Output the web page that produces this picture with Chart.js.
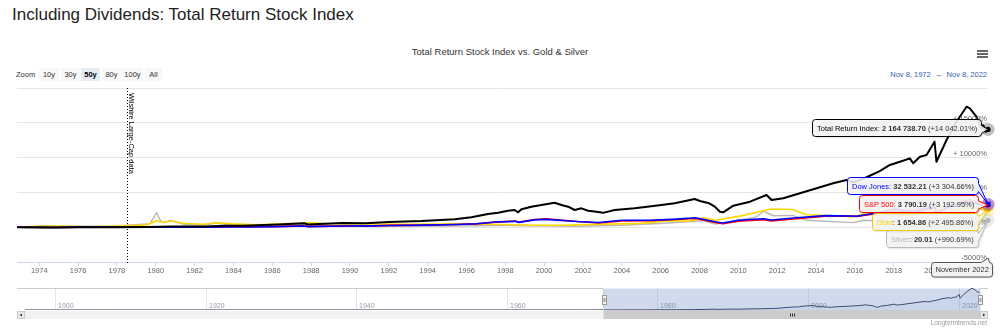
<!DOCTYPE html>
<html>
<head>
<meta charset="utf-8">
<title>Including Dividends: Total Return Stock Index</title>
<script src="https://cdn.jsdelivr.net/npm/chart.js@4.4.1/dist/chart.umd.min.js"></script>
<style>
html, body { margin: 0; padding: 0; background: #fff; }
body { position: relative; width: 1000px; height: 331px; overflow: hidden; font-family: "Liberation Sans", Arial, Helvetica, sans-serif; }
canvas { position: absolute; left: 0; }
#main { top: 0; }
#nav { top: 280px; }
.abs { position: absolute; white-space: nowrap; }
#page-title { left: 12px; top: 5px; font-size: 17px; color: #222; }
#chart-title { left: 0; top: 46px; width: 1000px; text-align: center; font-size: 9.5px; color: #333; }
.rs { top: 67.5px; height: 13.5px; line-height: 13.5px; font-size: 7.5px; color: #333; text-align: center; }
.rs.btn { background: #f7f7f7; border-radius: 1px; }
.rs.on { background: #e6ebf5; font-weight: bold; color: #000; }
#range { right: 13px; top: 68px; font-size: 7.5px; line-height: 13px; color: #335cad; }
.bar { left: 977px; width: 10.5px; height: 1.5px; background: #666; }
#credits { right: 13px; top: 319px; font-size: 6.5px; color: #999; }
</style>
</head>
<body>
<div id="page-title" class="abs">Including Dividends: Total Return Stock Index</div>
<div id="chart-title" class="abs">Total Return Stock Index vs. Gold &amp; Silver</div>
<span class="abs rs" style="left:16px;width:22px;text-align:left">Zoom</span>
<span class="abs rs btn" style="left:39px;width:20px">10y</span>
<span class="abs rs btn" style="left:61px;width:19px">30y</span>
<span class="abs rs btn on" style="left:81px;width:19px">50y</span>
<span class="abs rs btn" style="left:102px;width:19px">80y</span>
<span class="abs rs btn" style="left:122px;width:21px">100y</span>
<span class="abs rs btn" style="left:145px;width:17px">All</span>
<div id="range" class="abs">Nov 8, 1972 &nbsp;→&nbsp; Nov 8, 2022</div>
<div class="abs bar" style="top:50px"></div>
<div class="abs bar" style="top:53px"></div>
<div class="abs bar" style="top:56px"></div>
<canvas id="main" width="1000" height="285"></canvas>
<canvas id="nav" width="1000" height="45"></canvas>
<div id="credits" class="abs">Longtermtrends.net</div>

<script>
var chartFont = '"Liberation Sans", Arial, sans-serif';

// shown range in decimal years: Nov 8, 1972 -> Nov 8, 2022
var rangeStart = 1972.854;
var rangeEnd = 2022.854;
var xTickYears = [1974, 1976, 1978, 1980, 1982, 1984, 1986, 1988, 1990, 1992, 1994, 1996,
    1998, 2000, 2002, 2004, 2006, 2008, 2010, 2012, 2014, 2016, 2018, 2020];
var yTickValues = [-5000, 0, 5000, 10000, 15000, 20000];
var yTickLabels = ['-5000%', '0%', '+ 5000%', '+ 10000%', '+ 15000%', ''];
var wilshireYear = 1978.5;
var wilshireLabel = 'Wilshire Large-Cap data';

// Total Return Index, % change since Nov 1972
var triYears = [1972.854, 1974.75, 1976.0, 1977.9, 1979.5, 1980.9, 1982.6, 1983.5, 1984.5, 1986.3,
    1987.65, 1987.85, 1989.6, 1990.8, 1992.0, 1993.68, 1995.4, 1996.25, 1997.11, 1997.63,
    1998.14, 1998.48, 1998.66, 1998.83, 1999.34, 1999.86, 2000.54, 2000.89, 2001.23, 2001.57,
    2001.92, 2002.26, 2002.6, 2003.03, 2003.63, 2004.66, 2006.04, 2006.72, 2007.75, 2008.02,
    2008.5, 2008.79, 2009.05, 2009.22, 2009.74, 2010.6, 2011.45, 2011.71, 2012.31, 2013.17,
    2014.03, 2014.88, 2015.57, 2015.91, 2016.26, 2016.6, 2017.28, 2017.8, 2018.32, 2018.83,
    2019.0, 2019.35, 2019.69, 2020.1, 2020.2, 2020.72, 2021.23, 2021.75, 2021.92, 2022.26,
    2022.52, 2022.61, 2022.74, 2022.854];
var triPct = [0, -35, 5, 5, 40, 100, 90, 200, 200, 380,
    560, 400, 620, 560, 760, 890, 1130, 1420, 1900, 2090,
    2370, 2470, 2140, 2570, 2950, 3190, 3520, 3190, 2950, 2470,
    2710, 2370, 2250, 2060, 2470, 2710, 3190, 3430, 4050, 3770,
    3430, 2950, 2230, 2140, 3090, 3670, 4630, 3910, 4150, 4870,
    5590, 6310, 6780, 6450, 6780, 7180, 8070, 8940, 9410, 9890,
    9180, 10130, 10370, 12280, 9410, 12530, 15160, 17310, 17080, 15880,
    14210, 14680, 13720, 14042.01];

// Dow Jones and S&P 500 share the same dates
var indexYears = [1972.854, 1974.9, 1976.0, 1978.1, 1980.0, 1982.6, 1983.5, 1985.0, 1986.0, 1987.6,
    1987.85, 1989.0, 1990.5, 1990.8, 1992.0, 1994.0, 1995.5, 1996.5, 1997.5, 1998.5,
    1998.7, 1999.5, 2000.1, 2001.7, 2002.8, 2004.0, 2005.5, 2006.8, 2007.8, 2008.8,
    2009.2, 2010.0, 2011.3, 2011.7, 2013.0, 2014.5, 2015.7, 2016.1, 2017.0, 2018.05,
    2018.95, 2019.9, 2020.1, 2020.22, 2020.9, 2021.9, 2022.45, 2022.75, 2022.854];
var dowPct = [0, -40, 5, -16, -11, -16, 31, 31, 67, 182,
    88, 140, 203, 156, 235, 297, 381, 496, 737, 841,
    695, 1051, 1124, 820, 684, 998, 998, 1155, 1364, 789,
    601, 988, 1208, 1040, 1364, 1668, 1605, 1574, 1992, 2620,
    2337, 2829, 2933, 2097, 2996, 3666, 3195, 2986, 3304.66];
var spxPct = [0, -45, -13, -17, -4, -9, 43, 56, 82, 187,
    108, 161, 213, 169, 256, 300, 387, 473, 725, 899,
    734, 1116, 1203, 812, 595, 882, 943, 1116, 1247, 682,
    508, 873, 1073, 882, 1203, 1594, 1594, 1551, 1898, 2333,
    2072, 2637, 2837, 1985, 3028, 3983, 3288, 3028, 3192.95];

var goldYears = [1972.854, 1973.5, 1974.9, 1976.6, 1978.0, 1979.5, 1980.05, 1980.4, 1980.75, 1981.5,
    1982.5, 1983.1, 1984.0, 1985.2, 1987.9, 1989.0, 1993.0, 1996.0, 1999.6, 2001.3,
    2003.0, 2005.0, 2006.4, 2007.5, 2008.2, 2008.8, 2010.0, 2011.7, 2012.8, 2013.5,
    2015.9, 2016.5, 2018.7, 2019.9, 2020.6, 2021.2, 2022.2, 2022.75, 2022.854];
var goldPct = [0, 81, 171, 58, 164, 322, 925, 669, 895, 533,
    413, 639, 473, 352, 624, 503, 430, 503, 285, 292,
    428, 549, 941, 896, 1363, 1001, 1559, 2615, 2540, 1785,
    1514, 1936, 1710, 2162, 2917, 2464, 2841, 2389, 2495.86];

var silverYears = [1972.854, 1973.5, 1974.2, 1974.9, 1976.0, 1977.0, 1978.0, 1979.7, 1980.05, 1980.25,
    1980.45, 1980.75, 1981.5, 1982.5, 1983.1, 1984.0, 1986.0, 1987.4, 1988.0, 1991.0,
    1993.0, 1998.1, 2001.8, 2004.3, 2006.4, 2008.2, 2008.8, 2010.9, 2011.3, 2011.8,
    2012.8, 2013.5, 2015.9, 2016.5, 2018.8, 2019.6, 2020.2, 2020.6, 2021.1, 2022.2,
    2022.7, 2022.854];
var silverPct = [0, 42, 200, 140, 134, 151, 194, 500, 2080, 900,
    650, 990, 390, 281, 608, 336, 200, 390, 254, 118,
    118, 254, 129, 309, 608, 935, 445, 1426, 2300, 1644,
    1698, 990, 663, 990, 663, 881, 690, 1317, 1371, 1262,
    908, 990.69];

// navigator: Total Return Index before the shown range (tiny next to today's level)
var navStart = 1896.0;
var navEarlyYears = [1896.0, 1906.0, 1921.5, 1929.7, 1932.5, 1937.0, 1942.3, 1950.0, 1959.0, 1966.0, 1968.9, 1970.4];
var navEarlyPct = [-99.9, -99.7, -99.6, -98.5, -99.6, -99.0, -99.1, -98.4, -94, -90, -84, -89];
var navGridYears = [1900, 1920, 1940, 1960, 1980, 2000, 2020];

var seriesNames = ['Total Return Index', 'Dow Jones', 'S&P 500', 'Gold', 'Silver'];
var lastPrices = [2164738.70, 32532.21, 3790.19, 1654.86, 20.01];
var headerLabel = 'November 2022';

var seriesColors = ['#000000', '#0000ff', '#ff0000', '#ffd700', '#b8b8b8'];

function points(xs, ys) {
    return xs.map(function (x, i) { return { x: x, y: ys[i] }; });
}

function fmtNum(n) {
    var s = Math.abs(n).toFixed(2).split('.');
    s[0] = s[0].replace(/\B(?=(\d{3})+(?!\d))/g, ' ');
    return (n < 0 ? '-' : '') + s.join('.');
}

function roundBox(ctx, l, t, w, h, r) {
    ctx.moveTo(l + r, t);
    ctx.lineTo(l + w - r, t);
    ctx.arcTo(l + w, t, l + w, t + r, r);
}

// box with a little arrow on the right side pointing at (ax, ay)
function calloutRight(ctx, l, t, w, h, ax, ay) {
    var r = 3, R = l + w, B = t + h;
    var y1 = Math.min(Math.max(ay - 4, t + r), B - r - 8);
    var y2 = y1 + 8;
    ctx.beginPath();
    roundBox(ctx, l, t, w, h, r);
    ctx.lineTo(R, y1);
    ctx.lineTo(ax, ay);
    ctx.lineTo(R, y2);
    ctx.lineTo(R, B - r);
    ctx.arcTo(R, B, R - r, B, r);
    ctx.lineTo(l + r, B);
    ctx.arcTo(l, B, l, B - r, r);
    ctx.lineTo(l, t + r);
    ctx.arcTo(l, t, l + r, t, r);
    ctx.closePath();
}

function calloutTop(ctx, l, t, w, h, ax, ay) {
    var r = 3, R = l + w, B = t + h;
    var x2 = Math.min(ax + 4, R - r), x1 = x2 - 8;
    ctx.beginPath();
    ctx.moveTo(l + r, t);
    ctx.lineTo(x1, t);
    ctx.lineTo(ax, ay);
    ctx.lineTo(x2, t);
    ctx.lineTo(R - r, t);
    ctx.arcTo(R, t, R, t + r, r);
    ctx.lineTo(R, B - r);
    ctx.arcTo(R, B, R - r, B, r);
    ctx.lineTo(l + r, B);
    ctx.arcTo(l, B, l, B - r, r);
    ctx.lineTo(l, t + r);
    ctx.arcTo(l, t, l + r, t, r);
    ctx.closePath();
}

function paintBox(ctx, border) {
    ctx.save();
    ctx.shadowColor = 'rgba(0,0,0,0.18)';
    ctx.shadowOffsetX = 1;
    ctx.shadowOffsetY = 1;
    ctx.shadowBlur = 2;
    ctx.fillStyle = 'rgba(247,247,247,0.88)';
    ctx.fill();
    ctx.restore();
    ctx.strokeStyle = border;
    ctx.lineWidth = 1;
    ctx.stroke();
}

// split tooltip boxes (right edge, top)
var tipRight = [981, 978, 978, 978, 978];
var tipTop = [119.5, 177.5, 195.5, 213.5, 230.5];

var mainDecor = {
    id: 'mainDecor',
    beforeDatasetsDraw: function (chart) {
        var ctx = chart.ctx, a = chart.chartArea;
        var x = Math.round(chart.scales.x.getPixelForValue(wilshireYear)) + 0.5;
        ctx.save();
        ctx.strokeStyle = '#000';
        ctx.lineWidth = 1;
        ctx.setLineDash([1, 2]);
        ctx.beginPath();
        ctx.moveTo(x, a.top);
        ctx.lineTo(x, a.bottom + 2);
        ctx.stroke();
        ctx.setLineDash([]);
        ctx.translate(x + 1.8, a.top + 5);
        ctx.rotate(Math.PI / 2);
        ctx.font = '7.5px ' + chartFont;
        ctx.fillStyle = '#000';
        ctx.textAlign = 'left';
        ctx.textBaseline = 'alphabetic';
        ctx.fillText(wilshireLabel, 0, 0);
        ctx.restore();
    },
    afterDatasetsDraw: function (chart) {
        var ctx = chart.ctx, a = chart.chartArea;
        ctx.save();
        ctx.font = '7.5px ' + chartFont;
        ctx.fillStyle = '#666';
        ctx.textAlign = 'right';
        ctx.textBaseline = 'alphabetic';
        yTickValues.forEach(function (v, i) {
            if (!yTickLabels[i]) return;
            var y = chart.scales.y.getPixelForValue(v);
            ctx.fillText(yTickLabels[i], a.right - 1, y - 2);
        });
        // hover halos and markers at the last point
        for (var i = chart.data.datasets.length - 1; i >= 0; i--) {
            var meta = chart.getDatasetMeta(i);
            var p = meta.data[meta.data.length - 1];
            ctx.globalAlpha = 0.25;
            ctx.fillStyle = seriesColors[i];
            ctx.beginPath();
            ctx.arc(p.x, p.y, 6.5, 0, Math.PI * 2);
            ctx.fill();
            ctx.globalAlpha = 1;
            ctx.beginPath();
            if (i === 1) {
                ctx.rect(p.x - 2.5, p.y - 2.5, 5, 5);
            } else {
                ctx.arc(p.x, p.y, 2.6, 0, Math.PI * 2);
            }
            ctx.fill();
        }
        ctx.restore();
    },
    afterDraw: function (chart) {
        var ctx = chart.ctx, a = chart.chartArea;
        ctx.save();
        ctx.textBaseline = 'alphabetic';
        ctx.textAlign = 'left';
        for (var i = chart.data.datasets.length - 1; i >= 0; i--) {
            var data = chart.data.datasets[i].data;
            var chg = data[data.length - 1].y;
            var parts = [
                { t: seriesNames[i], c: seriesColors[i], b: false },
                { t: ': ', c: '#333', b: false },
                { t: fmtNum(lastPrices[i]), c: '#333', b: true },
                { t: ' (' + (chg >= 0 ? '+' : '') + fmtNum(chg) + '%)', c: '#333', b: false }
            ];
            var w = 0;
            parts.forEach(function (pt) {
                ctx.font = (pt.b ? 'bold ' : '') + '7.5px ' + chartFont;
                pt.w = ctx.measureText(pt.t).width;
                w += pt.w;
            });
            var bw = Math.round(w + 9), bh = 17;
            var l = tipRight[i] - bw + 0.5, t = tipTop[i];
            var meta = chart.getDatasetMeta(i);
            var p = meta.data[meta.data.length - 1];
            calloutRight(ctx, l, t, bw, bh, p.x, p.y);
            paintBox(ctx, seriesColors[i] === '#ffd700' ? '#f2cc00' : seriesColors[i]);
            var tx = l + 4.5;
            parts.forEach(function (pt) {
                ctx.font = (pt.b ? 'bold ' : '') + '7.5px ' + chartFont;
                ctx.fillStyle = pt.c;
                ctx.fillText(pt.t, tx, t + bh / 2 + 2.8);
                tx += pt.w;
            });
        }
        // header label under the x axis
        ctx.font = '7.5px ' + chartFont;
        var hw = Math.round(ctx.measureText(headerLabel).width + 8);
        var hx = chart.scales.x.getPixelForValue(rangeEnd);
        var hl = 992.5 - hw, ht = a.bottom + 0.5, hh = 14.5;
        calloutTop(ctx, hl, ht, hw, hh, hx, a.bottom - 4);
        paintBox(ctx, '#555');
        ctx.fillStyle = '#333';
        ctx.fillText(headerLabel, hl + 4, ht + hh / 2 + 2.7);
        ctx.restore();
    }
};

var mainChart = new Chart(document.getElementById('main').getContext('2d'), {
    type: 'line',
    data: {
        datasets: [
            { label: seriesNames[0], data: points(triYears, triPct), borderColor: seriesColors[0], borderWidth: 2 },
            { label: seriesNames[1], data: points(indexYears, dowPct), borderColor: seriesColors[1], borderWidth: 1.6 },
            { label: seriesNames[2], data: points(indexYears, spxPct), borderColor: seriesColors[2], borderWidth: 1.6 },
            { label: seriesNames[3], data: points(goldYears, goldPct), borderColor: seriesColors[3], borderWidth: 1.6 },
            { label: seriesNames[4], data: points(silverYears, silverPct), borderColor: seriesColors[4], borderWidth: 1.4 }
        ]
    },
    options: {
        responsive: false,
        animation: false,
        events: [],
        elements: { point: { radius: 0 }, line: { tension: 0, borderJoinStyle: 'round' } },
        layout: { padding: { left: 17, right: 12, top: 88, bottom: 7 } },
        plugins: { legend: { display: false }, tooltip: { enabled: false } },
        scales: {
            x: {
                type: 'linear',
                min: rangeStart,
                max: rangeEnd,
                afterBuildTicks: function (s) { s.ticks = xTickYears.map(function (v) { return { value: v }; }); },
                afterFit: function (s) { s.height = 16; },
                grid: { drawOnChartArea: false, drawTicks: true, tickLength: 4, color: '#ccd6eb' },
                border: { color: '#ccd6eb' },
                ticks: {
                    autoSkip: false, maxRotation: 0, padding: 0, color: '#666',
                    font: { size: 7.5, family: chartFont },
                    callback: function (v) { return String(v); }
                }
            },
            y: {
                position: 'right',
                min: -5000,
                max: 20000,
                afterBuildTicks: function (s) { s.ticks = yTickValues.map(function (v) { return { value: v }; }); },
                afterFit: function (s) { s.width = 0; },
                grid: { color: '#e6e6e6', drawTicks: false },
                border: { display: false },
                ticks: { display: false }
            }
        }
    },
    plugins: [mainDecor]
});

var navDecor = {
    id: 'navDecor',
    beforeDatasetsDraw: function (chart) {
        var ctx = chart.ctx, a = chart.chartArea, xs = chart.scales.x;
        ctx.save();
        ctx.strokeStyle = '#e6e6e6';
        ctx.lineWidth = 1;
        ctx.font = '7px ' + chartFont;
        ctx.fillStyle = '#999';
        ctx.textAlign = 'left';
        navGridYears.forEach(function (yr) {
            var x = Math.round(xs.getPixelForValue(yr)) + 0.5;
            ctx.beginPath();
            ctx.moveTo(x, a.top);
            ctx.lineTo(x, a.bottom);
            ctx.stroke();
            ctx.fillText(String(yr), x + 2.5, a.bottom - 2);
        });
        ctx.restore();
    },
    afterDraw: function (chart) {
        var ctx = chart.ctx, a = chart.chartArea, xs = chart.scales.x;
        var x0 = xs.getPixelForValue(rangeStart), x1 = xs.getPixelForValue(rangeEnd);
        var left = a.left - 8, right = a.right + 8;
        var top = Math.round(a.top) + 0.5, bot = Math.round(a.bottom) + 0.5;
        ctx.save();
        ctx.fillStyle = 'rgba(102,133,194,0.3)';
        ctx.fillRect(x0, top, x1 - x0, bot - top);
        ctx.strokeStyle = '#cccccc';
        ctx.lineWidth = 1;
        ctx.beginPath();
        ctx.moveTo(left, top);
        ctx.lineTo(x0, top);
        ctx.lineTo(x0, bot);
        ctx.lineTo(x1, bot);
        ctx.lineTo(x1, top);
        ctx.lineTo(right, top);
        ctx.stroke();
        // scrollbar
        var sy = bot + 0.5, sh = 8;
        ctx.fillStyle = '#f2f2f2';
        ctx.fillRect(left, sy, right - left, sh);
        ctx.fillStyle = '#cccccc';
        ctx.fillRect(x0, sy, x1 - x0, sh);
        ctx.strokeStyle = '#333';
        var cx = Math.round((x0 + x1) / 2) + 0.5;
        ctx.beginPath();
        [-2, 0, 2].forEach(function (d) {
            ctx.moveTo(cx + d, sy + 2.5);
            ctx.lineTo(cx + d, sy + 5.5);
        });
        ctx.stroke();
        [[left, -1], [right - 8, 1]].forEach(function (b) {
            ctx.fillStyle = '#e6e6e6';
            ctx.fillRect(b[0], sy, 8, sh);
            ctx.strokeStyle = '#cccccc';
            ctx.strokeRect(b[0] + 0.5, sy + 0.5, 7, sh - 1);
            ctx.fillStyle = '#333';
            var mx = b[0] + 4, my = sy + sh / 2;
            ctx.beginPath();
            ctx.moveTo(mx + 1.3 * b[1], my);
            ctx.lineTo(mx - 1 * b[1], my - 1.6);
            ctx.lineTo(mx - 1 * b[1], my + 1.6);
            ctx.closePath();
            ctx.fill();
        });
        // handles
        [x0, x1].forEach(function (hx) {
            var l = Math.round(hx) - 2 + 0.5, t = 295.5 - 280;
            ctx.fillStyle = '#f2f2f2';
            ctx.fillRect(l, t, 4, 9);
            ctx.strokeStyle = '#999';
            ctx.strokeRect(l, t, 4, 9);
            ctx.beginPath();
            ctx.moveTo(l + 1.5, t + 2.5);
            ctx.lineTo(l + 1.5, t + 6.5);
            ctx.moveTo(l + 2.5, t + 2.5);
            ctx.lineTo(l + 2.5, t + 6.5);
            ctx.stroke();
        });
        ctx.restore();
    }
};

var navChart = new Chart(document.getElementById('nav').getContext('2d'), {
    type: 'line',
    data: {
        datasets: [{
            label: seriesNames[0],
            data: points(navEarlyYears.concat(triYears), navEarlyPct.concat(triPct)),
            borderColor: '#2a3450',
            borderWidth: 1,
            backgroundColor: 'rgba(51,92,173,0.05)',
            fill: 'start'
        }]
    },
    options: {
        responsive: false,
        animation: false,
        events: [],
        elements: { point: { radius: 0 }, line: { tension: 0 } },
        layout: { padding: { left: 25, right: 20, top: 8, bottom: 15 } },
        plugins: { legend: { display: false }, tooltip: { enabled: false } },
        scales: {
            x: { type: 'linear', display: false, min: navStart, max: rangeEnd },
            y: { display: false, min: -100, max: 17600 }
        }
    },
    plugins: [navDecor]
});
</script>
</body>
</html>
